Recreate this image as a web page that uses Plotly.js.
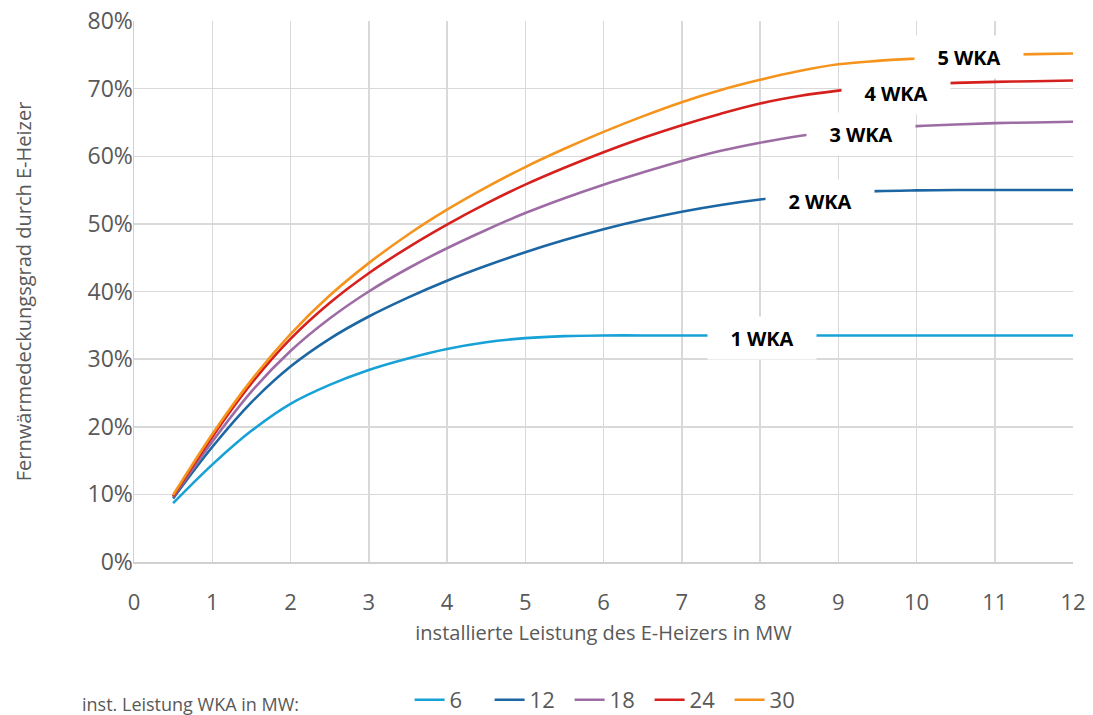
<!DOCTYPE html>
<html><head><meta charset="utf-8">
<script src="https://cdn.plot.ly/plotly-3.0.1.min.js"></script>
<style>html,body{margin:0;padding:0;background:#fff}#chart{width:1093px;height:715px}</style>
</head><body><div id="chart"></div>
<script>
const xValues = [0.5, 1, 1.5, 2, 2.5, 3, 3.5, 4, 4.5, 5, 5.5, 6, 6.5, 7, 7.5, 8, 8.5, 9, 9.5, 10, 10.5, 11, 11.5, 12];
const seriesNames = ["6", "12", "18", "24", "30"];
const wka6  = [8.7, 14.4, 19.4, 23.4, 26.2, 28.4, 30.1, 31.5, 32.5, 33.1, 33.4, 33.5, 33.5, 33.5, 33.5, 33.5, 33.5, 33.5, 33.5, 33.5, 33.5, 33.5, 33.5, 33.5];
const wka12 = [9.4, 17.0, 23.6, 28.9, 33.0, 36.3, 39.1, 41.6, 43.8, 45.8, 47.6, 49.2, 50.6, 51.8, 52.8, 53.6, 54.2, 54.6, 54.85, 54.95, 55.0, 55.0, 55.0, 55.0];
const wka18 = [9.6, 17.8, 25.2, 31.2, 36.0, 40.0, 43.4, 46.4, 49.1, 51.6, 53.8, 55.8, 57.6, 59.3, 60.8, 62.0, 63.0, 63.7, 64.1, 64.45, 64.7, 64.9, 65.0, 65.1];
const wka24 = [9.7, 18.5, 26.4, 33.0, 38.3, 42.7, 46.5, 49.9, 53.0, 55.8, 58.3, 60.6, 62.7, 64.6, 66.3, 67.8, 68.9, 69.7, 70.3, 70.6, 70.85, 71.0, 71.1, 71.2];
const wka30 = [9.9, 18.9, 26.9, 33.7, 39.4, 44.2, 48.4, 52.1, 55.4, 58.4, 61.1, 63.6, 65.9, 68.0, 69.8, 71.3, 72.6, 73.6, 74.1, 74.45, 74.75, 74.95, 75.1, 75.2];
const labelTexts = ["1 WKA", "2 WKA", "3 WKA", "4 WKA", "5 WKA"];
const labelX = [8.02, 8.77, 9.29, 9.74, 10.67];
const labelY = [33.1, 53.4, 63.3, 69.3, 74.7];
const xTicks = [0,1,2,3,4,5,6,7,8,9,10,11,12];
const yTicks = [0,10,20,30,40,50,60,70,80];
const yTickLabels = ["0%","10%","20%","30%","40%","50%","60%","70%","80%"];

const colors = ["#16a2d6", "#1c67a3", "#9e6ca4", "#d6201d", "#f5941c"];
const allSeries = [wka6, wka12, wka18, wka24, wka30];

const traces = allSeries.map((ys, i) => ({
  x: xValues, y: ys, name: seriesNames[i], type: "scatter", mode: "lines",
  line: {color: colors[i], width: 2.6, shape: "spline", smoothing: 1.0},
  hoverinfo: "skip"
}));

const font = "'Open Sans', 'DejaVu Sans', sans-serif";
const annotations = labelTexts.map((t, i) => ({
  x: labelX[i], y: labelY[i], xref: "x", yref: "y", text: "<b>" + t + "</b>",
  showarrow: false, bgcolor: "#ffffff", width: 100, height: 34, borderpad: 4,
  font: {family: font, size: 20, color: "#000000"}
}));
annotations.push({
  xref: "paper", yref: "paper", x: -0.058, y: -0.262, xanchor: "left", yanchor: "middle",
  text: "inst. Leistung WKA in MW:", showarrow: false,
  font: {family: font, size: 18, color: "#595959"}
});

const layout = {
  width: 1093, height: 715,
  margin: {l: 134, r: 20, t: 21, b: 153},
  paper_bgcolor: "#ffffff", plot_bgcolor: "#ffffff",
  showlegend: true,
  legend: {orientation: "h", x: 0.2935, xanchor: "left", xref: "paper", y: 0.021, yref: "container", yanchor: "middle",
           font: {family: font, size: 22, color: "#595959"}, itemwidth: 30, entrywidth: 35, entrywidthmode: "pixels"},
  xaxis: {
    range: [0, 12], tickvals: xTicks, ticktext: xTicks.map(String), automargin: false,
    showgrid: true, gridcolor: "#d9d9d9", gridwidth: 1.5,
    showline: true, linecolor: "#d0d0d0", linewidth: 1.5, zeroline: false,
    ticks: "", ticklabelstandoff: 20, tickfont: {family: font, size: 22, color: "#595959"},
    title: {text: "installierte Leistung des E-Heizers in MW", font: {family: font, size: 20, color: "#595959"}, standoff: 11}
  },
  yaxis: {
    range: [0, 80], tickvals: yTicks, ticktext: yTickLabels, automargin: false,
    showgrid: true, gridcolor: "#d9d9d9", gridwidth: 1.5,
    showline: true, linecolor: "#d0d0d0", linewidth: 1.5, zeroline: false,
    ticks: "", ticklabelstandoff: -5, tickfont: {family: font, size: 23, color: "#595959"},
    title: {text: "Fernwärmedeckungsgrad durch E-Heizer", font: {family: font, size: 20, color: "#595959"}, standoff: 50}
  },
  annotations: annotations
};

Plotly.newPlot("chart", traces, layout, {staticPlot: true, displayModeBar: false});
</script>
</body></html>
